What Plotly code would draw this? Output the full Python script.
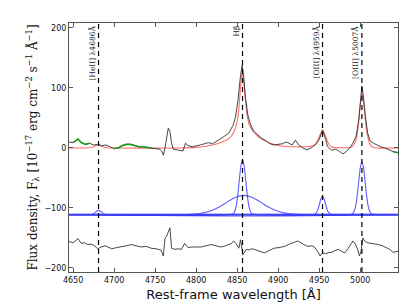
import plotly.graph_objects as go

# ---- observed spectrum (rest-frame wavelength, flux) ----
wave = [4645, 4650, 4656, 4660, 4665, 4670, 4675, 4680, 4685, 4690, 4695, 4700, 4705, 4710, 4715,
        4720, 4725, 4730, 4735, 4740, 4745, 4750, 4755, 4758, 4760, 4762, 4764, 4766, 4768, 4770,
        4772, 4775, 4780, 4784, 4787, 4790, 4795, 4800, 4805, 4810, 4815, 4820, 4825, 4830, 4835,
        4840, 4845, 4848, 4851, 4854, 4856, 4858, 4860, 4863, 4866, 4870, 4875, 4880, 4885, 4890,
        4895, 4900, 4905, 4910, 4913, 4917, 4921, 4925, 4930, 4935, 4940, 4945, 4950, 4954, 4957,
        4960, 4965, 4970, 4975, 4979, 4983, 4987, 4991, 4995, 4998, 5000, 5002, 5004, 5006, 5009,
        5012, 5016, 5020, 5025, 5030, 5035, 5040, 5046]
flux = [10, 9, 15, 9, 6, 8, 5, 6, 4, 5, 2, -1, 0, 4, 6,
        6, 4, 2, 2, 1, 0, 0, -2, -5, -12, 0, 18, 33, 28, 8,
        -2, -3, -4, -5, 8, 4, 2, 3, 5, 7, 9, 7, 11, 16, 20,
        25, 38, 52, 80, 120, 138, 118, 85, 55, 40, 28, 22, 16, 12, 7,
        5, 6, 7, 10, 8, 5, 13, 5, 0, -3, 0, 5, 14, 30, 18,
        3, -4, -2, -6, -10, -6, 0, 8, 20, 45, 75, 103, 85, 55, 25,
        12, 8, 5, 2, 0, -3, -6, -8]

# continuum windows (highlighted in green)
cont_windows = [(4650, 4672), (4698, 4745), (5036, 5046)]

# ---- total model ----
model_wave = [4645, 4670, 4675, 4680, 4685, 4690, 4700, 4780, 4800, 4810, 4820, 4830, 4838, 4843,
              4847, 4850, 4852, 4854, 4856, 4858, 4860, 4862, 4865, 4870, 4875, 4880, 4885, 4890,
              4895, 4900, 4910, 4920, 4930, 4940, 4945, 4948, 4951, 4954, 4957, 4960, 4963, 4967,
              4975, 4985, 4990, 4994, 4997, 5000, 5002, 5004, 5006, 5009, 5012, 5015, 5020, 5046]
model_flux = [0, 0.5, 2, 5, 3, 0.5, 0, 0, 1, 2.5, 5, 9, 14, 20,
              30, 45, 65, 100, 125, 110, 80, 55, 38, 27, 20, 15, 11, 8,
              6, 4, 2.5, 2, 2, 3, 6, 12, 22, 30, 22, 11, 4, 1,
              0.5, 0.5, 2, 10, 30, 70, 92, 78, 50, 20, 6, 1.5, 0, 0]

# ---- individual line components (height above their offset baseline) ----
comp_offset = -111
comp_names = ["HeII", "Hb_narrow", "Hb_broad", "OIII4959", "OIII5007"]
comp_wave = {
    "HeII":      [4645, 4671, 4673, 4675, 4677, 4679, 4681, 4683, 4685, 4687, 4689, 4691, 5046],
    "Hb_narrow": [4645, 4844.5, 4846.5, 4848.5, 4850.5, 4852.5, 4854.5, 4856.5, 4858.5, 4860.5,
                  4862.5, 4864.5, 4866.5, 4868.5, 5046],
    "Hb_broad":  [4645, 4788, 4798, 4808, 4818, 4828, 4838, 4848, 4858, 4868, 4878, 4888, 4898,
                  4908, 4918, 4928, 5046],
    "OIII4959":  [4645, 4942, 4944, 4946, 4948, 4950, 4952, 4954, 4956, 4958, 4960, 4962, 4964,
                  4966, 5046],
    "OIII5007":  [4645, 4990, 4992, 4994, 4996, 4998, 5000, 5002, 5004, 5006, 5008, 5010, 5012,
                  5014, 5046],
}
comp_flux = {
    "HeII":      [0, 0.1, 0.5, 1.6, 3.6, 5.9, 7, 5.9, 3.6, 1.6, 0.5, 0.1, 0],
    "Hb_narrow": [0, 1, 4, 12.5, 30, 56, 81, 92, 81, 56, 30, 12.5, 4, 1, 0],
    "Hb_broad":  [0, 0.2, 0.8, 2.4, 6.3, 12.6, 21.2, 28.9, 32, 28.9, 21.2, 12.6, 6.3, 2.4, 0.8,
                  0.2, 0],
    "OIII4959":  [0, 0.1, 0.5, 2.3, 7, 16, 26, 31, 26, 16, 7, 2.3, 0.5, 0.1, 0],
    "OIII5007":  [0, 1, 3.9, 11.9, 28.6, 53.4, 77.7, 88, 77.7, 53.4, 28.6, 11.9, 3.9, 1, 0],
}

# ---- residuals (already offset) ----
resid_wave = [4645, 4650, 4656, 4660, 4664, 4668, 4672, 4676, 4680, 4684, 4689, 4693, 4697, 4703,
              4709, 4715, 4721, 4727, 4733, 4739, 4745, 4751, 4757, 4760, 4762, 4764, 4766, 4768,
              4770, 4774, 4778, 4782, 4786, 4790, 4795, 4800, 4806, 4812, 4818, 4824, 4830, 4836,
              4843, 4846, 4849, 4852, 4854, 4857, 4859, 4861, 4864, 4868, 4871, 4877, 4883, 4889,
              4895, 4901, 4908, 4914, 4919, 4924, 4930, 4936, 4941, 4944, 4948, 4951, 4954, 4958,
              4962, 4965, 4969, 4973, 4977, 4981, 4985, 4988, 4991, 4994, 4997, 4999, 5001, 5003,
              5006, 5009, 5014, 5018, 5022, 5027, 5032, 5036, 5040, 5046]
resid_flux = [-156, -158, -151, -159, -158, -161, -160, -163, -168, -165, -163, -166, -168, -166,
              -165, -163, -161, -163, -165, -164, -167, -168, -170, -180, -150, -147, -140, -133,
              -167, -169, -168, -169, -159, -166, -165, -165, -165, -163, -161, -163, -165, -163,
              -159, -155, -160, -167, -153, -178, -172, -169, -170, -168, -169, -172, -175, -171,
              -167, -166, -164, -160, -158, -155, -160, -164, -163, -165, -172, -180, -175, -176,
              -174, -174, -171, -169, -172, -175, -168, -162, -155, -160, -170, -180, -172, -150,
              -156, -158, -159, -160, -161, -163, -167, -169, -174, -172]

# ---- line markers ----
line_pos = [4681, 4856.5, 4954, 5002]
line_labels = ["[HeII] λ4686Å", "Hβ", "[OIII] λ4959Å", "[OIII] λ5007Å"]

x_range = [4645, 5046]
y_range = [-206.7, 208.3]
x_ticks = [4650, 4700, 4750, 4800, 4850, 4900, 4950, 5000]
y_ticks = [-200, -100, 0, 100, 200]

fig = go.Figure()

# residuals
fig.add_trace(go.Scatter(x=resid_wave, y=resid_flux, mode="lines",
                         line=dict(color="#333333", width=0.9)))

# components
for name in comp_names:
    fig.add_trace(go.Scatter(x=comp_wave[name], y=[comp_offset + v for v in comp_flux[name]],
                             mode="lines", line=dict(color="rgba(40,40,255,0.75)", width=1.1,
                                                     shape="spline", smoothing=0.6)))
# thicker common baseline of the components
fig.add_trace(go.Scatter(x=x_range, y=[comp_offset, comp_offset], mode="lines",
                         line=dict(color="rgba(70,70,255,0.7)", width=2)))

# model
fig.add_trace(go.Scatter(x=model_wave, y=model_flux, mode="lines",
                         line=dict(color="rgba(255,60,60,0.75)", width=1.1,
                                   shape="spline", smoothing=0.6)))

# spectrum
fig.add_trace(go.Scatter(x=wave, y=flux, mode="lines",
                         line=dict(color="#333333", width=0.9)))

# continuum windows in green
for lo, hi in cont_windows:
    wx = [w for w in wave if lo <= w <= hi]
    wy = [f for w, f in zip(wave, flux) if lo <= w <= hi]
    fig.add_trace(go.Scatter(x=wx, y=wy, mode="lines",
                             line=dict(color="#1a9a1a", width=1.6)))

# dashed line markers and labels
for pos, lab in zip(line_pos, line_labels):
    fig.add_shape(type="line", xref="x", yref="paper", x0=pos, x1=pos, y0=0, y1=1,
                  line=dict(color="black", width=1.2, dash="5px,4px"), layer="above")
    fig.add_annotation(x=pos, xref="x", y=1, yref="paper", text=lab, textangle=-90,
                       showarrow=False, xanchor="right", yanchor="top", xshift=0, yshift=-1,
                       font=dict(family="DejaVu Serif", size=7.5, color="#222222"))

axis_common = dict(showline=True, linecolor="#555555", linewidth=1, mirror="ticks",
                   ticks="inside", ticklen=4, tickcolor="#555555", showgrid=False,
                   zeroline=False, tickfont=dict(family="DejaVu Sans", size=8, color="#111111"))

fig.update_xaxes(range=x_range, tickvals=x_ticks, **axis_common,
                 title=dict(text="Rest-frame wavelength [Å]", standoff=6,
                            font=dict(family="DejaVu Sans", size=13, color="#111111")))
fig.update_yaxes(range=y_range, tickvals=y_ticks, **axis_common,
                 title=dict(text="Flux density, F<sub>λ</sub> [10<sup>−17</sup> erg cm<sup>−2</sup> s<sup>−1</sup> Å<sup>−1</sup>]",
                            standoff=4,
                            font=dict(family="DejaVu Serif", size=12, color="#111111")))

fig.update_layout(width=407, height=305, showlegend=False,
                  margin=dict(l=61, r=17, t=15, b=41),
                  plot_bgcolor="white", paper_bgcolor="white")

fig.write_html("out.html")
